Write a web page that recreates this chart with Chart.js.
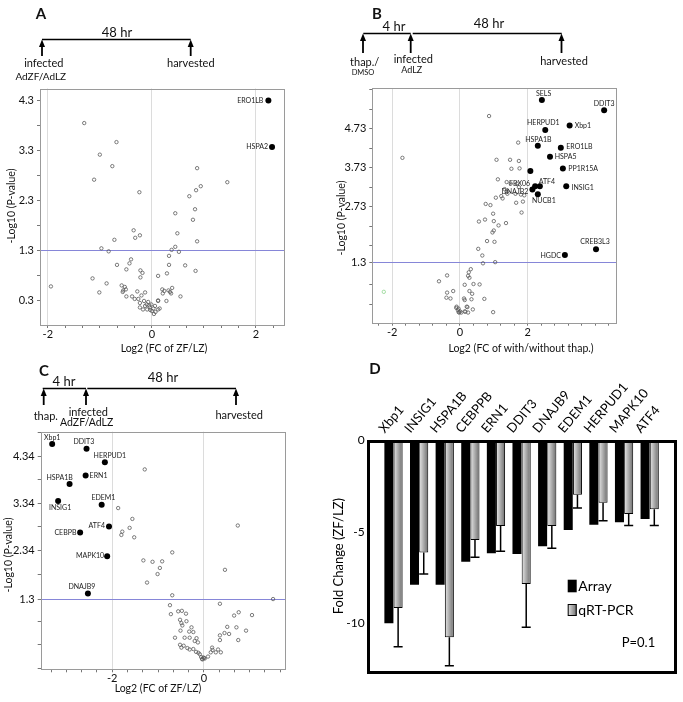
<!DOCTYPE html>
<html>
<head>
<meta charset="utf-8">
<title>Volcano plots and qRT-PCR validation</title>
<script src="https://cdn.jsdelivr.net/npm/chart.js@4.4.1/dist/chart.umd.min.js"></script>
<style>
  html, body { margin:0; padding:0; background:#fff; }
  #page { position:relative; width:683px; height:702px; overflow:hidden; background:#fff; font-family: Lato, "Open Sans", sans-serif; }
  .cbox { position:absolute; }
  #overlay { position:absolute; left:0; top:0; pointer-events:none; }
</style>
</head>
<body>
<div id="page">
  <div class="cbox" style="left:0px;top:74px;width:300px;height:288px"><canvas id="chartA"></canvas></div>
  <div class="cbox" style="left:325px;top:74px;width:358px;height:288px"><canvas id="chartB"></canvas></div>
  <div class="cbox" style="left:0px;top:417px;width:300px;height:285px"><canvas id="chartC"></canvas></div>
  <div class="cbox" style="left:325px;top:360px;width:358px;height:342px"><canvas id="chartD"></canvas></div>

  <svg id="overlay" width="683" height="702" font-family="Lato, 'Open Sans', sans-serif" fill="#111">
    <!-- Panel A timeline -->
    <text x="41" y="19" font-size="15" font-weight="bold" text-anchor="middle">A</text>
    <text x="117" y="37" font-size="13" text-anchor="middle">48 hr</text>
    <line x1="42" y1="39.5" x2="190.7" y2="39.5" stroke="#000" stroke-width="1.4"/>
    <polygon points="42,39.5 39,47 45,47" fill="#000"/><line x1="42" y1="46" x2="42" y2="56" stroke="#000" stroke-width="1.8"/>
    <polygon points="190.7,39.5 187.7,47 193.7,47" fill="#000"/><line x1="190.7" y1="46" x2="190.7" y2="56" stroke="#000" stroke-width="1.8"/>
    <text x="43.8" y="67" font-size="11" text-anchor="middle">infected</text>
    <text x="40.8" y="80" font-size="10" text-anchor="middle">AdZF/AdLZ</text>
    <text x="190.8" y="67" font-size="11" text-anchor="middle">harvested</text>

    <!-- Panel B timeline -->
    <text x="377" y="19" font-size="15" font-weight="bold" text-anchor="middle">B</text>
    <text x="394" y="31" font-size="13" text-anchor="middle">4 hr</text>
    <text x="489" y="28" font-size="13" text-anchor="middle">48 hr</text>
    <line x1="363.3" y1="33.5" x2="410.7" y2="33.5" stroke="#000" stroke-width="1.4"/>
    <line x1="412.7" y1="33.5" x2="561.7" y2="33.5" stroke="#000" stroke-width="1.4"/>
    <polygon points="363,33.5 360,41 366,41" fill="#000"/><line x1="363" y1="40" x2="363" y2="53" stroke="#000" stroke-width="1.8"/>
    <polygon points="410.7,33.5 407.7,41 413.7,41" fill="#000"/><line x1="410.7" y1="40" x2="410.7" y2="53" stroke="#000" stroke-width="1.8"/>
    <polygon points="561.5,33.5 558.5,41 564.5,41" fill="#000"/><line x1="561.5" y1="40" x2="561.5" y2="53" stroke="#000" stroke-width="1.8"/>
    <text x="364.7" y="65.5" font-size="11" text-anchor="middle">thap./</text>
    <text x="363" y="75" font-size="7.5" text-anchor="middle">DMSO</text>
    <text x="413.3" y="62.5" font-size="11" text-anchor="middle">infected</text>
    <text x="411.7" y="72.5" font-size="9" text-anchor="middle">AdLZ</text>
    <text x="564" y="65" font-size="11" text-anchor="middle">harvested</text>

    <!-- Panel C timeline -->
    <text x="44" y="375.5" font-size="15" font-weight="bold" text-anchor="middle">C</text>
    <text x="64" y="385.5" font-size="13" text-anchor="middle">4 hr</text>
    <text x="163" y="382" font-size="13" text-anchor="middle">48 hr</text>
    <line x1="42.7" y1="388.5" x2="86" y2="388.5" stroke="#000" stroke-width="1.4"/>
    <line x1="87.3" y1="388.5" x2="236" y2="388.5" stroke="#000" stroke-width="1.4"/>
    <polygon points="43.7,388.5 40.7,396 46.7,396" fill="#000"/><line x1="43.7" y1="395" x2="43.7" y2="405" stroke="#000" stroke-width="1.8"/>
    <polygon points="86,388.5 83,396 89,396" fill="#000"/><line x1="86" y1="395" x2="86" y2="405" stroke="#000" stroke-width="1.8"/>
    <polygon points="236,388.5 233,396 239,396" fill="#000"/><line x1="236" y1="395" x2="236" y2="405" stroke="#000" stroke-width="1.8"/>
    <text x="45.8" y="420" font-size="11" text-anchor="middle">thap.</text>
    <text x="88.3" y="416" font-size="11" text-anchor="middle">infected</text>
    <text x="86.7" y="426" font-size="10.5" text-anchor="middle">AdZF/AdLZ</text>
    <text x="239.2" y="419" font-size="11" text-anchor="middle">harvested</text>

    <!-- Panel D letter -->
    <text x="375" y="373.5" font-size="15" font-weight="bold" text-anchor="middle">D</text>

    <!-- Axis titles of the volcano plots -->
    <text transform="translate(11,206) rotate(-90)" font-size="10.5" text-anchor="middle" dominant-baseline="central">-Log10 (P-value)</text>
    <text x="164" y="348" font-size="10.5" text-anchor="middle" dominant-baseline="central">Log2 (FC of ZF/LZ)</text>
    <text transform="translate(341,218) rotate(-90)" font-size="10.5" text-anchor="middle" dominant-baseline="central">-Log10 (P-value)</text>
    <text x="521" y="348" font-size="10.5" text-anchor="middle" dominant-baseline="central">Log2 (FC of with/without thap.)</text>
    <text transform="translate(8,555) rotate(-90)" font-size="10.5" text-anchor="middle" dominant-baseline="central">-Log10 (P-value)</text>
    <text x="158" y="688" font-size="10.5" text-anchor="middle" dominant-baseline="central">Log2 (FC of ZF/LZ)</text>
  </svg>
</div>

<script>
// ---------------- DATA ----------------
const pThreshold = 1.3;

// Panel A: ZF vs LZ
const aGenes   = ['ERO1LB', 'HSPA2'];
const aGeneFC  = [2.24, 2.31];
const aGeneP   = [4.30, 3.37];
const aOther = [
  [-1.30,3.85],[-0.68,3.47],[-1.00,3.22],[-0.76,2.99],[-1.11,2.72],[-0.24,2.47],[0.87,2.95],[1.45,2.67],
  [0.94,2.59],[0.85,2.51],[0.72,2.39],[0.83,2.13],[0.45,2.05],[0.79,1.92],[0.49,1.65],[0.87,1.49],
  [-0.35,1.71],[-0.23,1.61],[-0.32,1.56],[-0.72,1.52],[-0.97,1.35],[-0.83,1.29],[0.45,1.38],[0.38,1.32],
  [0.52,1.28],[0.33,1.20],[-0.67,1.02],[-0.40,1.13],[-0.43,1.05],[-0.49,0.93],[-0.22,0.91],[-0.18,0.86],
  [-0.22,0.77],[0.12,0.80],[0.29,0.85],[0.33,1.02],[0.64,1.01],[0.84,0.90],[-1.14,0.75],[-0.87,0.65],
  [-1.94,0.59],[-1.01,0.47],[-0.58,0.61],[-0.55,0.51],[-0.52,0.58],[-0.50,0.53],[-0.56,0.48],[-0.49,0.39],
  [-0.28,0.49],[-0.38,0.39],[-0.33,0.34],[-0.26,0.34],[-0.20,0.41],[-0.13,0.47],[0.20,0.53],[0.24,0.50],
  [0.32,0.51],[0.35,0.48],[0.39,0.56],[0.37,0.45],[0.21,0.45],[0.55,0.39],[0.12,0.30],[0.28,0.30],
  [-0.07,0.28],[-0.10,0.23],[-0.05,0.21],[-0.13,0.20],[-0.01,0.23],[-0.04,0.17],[0.03,0.15],[-0.09,0.13],
  [-0.03,0.12],[0.07,0.08],[0.04,0.04],[0.12,0.13],[0.15,0.15],[-0.23,0.17],[-0.17,0.13],[0.12,0.31],
  [-0.23,0.26],[0.00,0.10],[0.06,0.20],[-0.15,0.30]
];
const aXLabels = [-2, 0, 2];
const aYLabels = [0.3, 1.3, 2.3, 3.3, 4.3];

// Panel B: with / without thapsigargin
const bGenes  = ['SELS','DDIT3','Xbp1','HERPUD1','HSPA1B','ERO1LB','HSPA5','','PP1R15A','ATF4','FBX06','DNAJB2','NUCB1','INSIG1','CREB3L3','HGDC'];
const bGeneFC = [2.42, 4.26, 3.24, 2.52, 2.30, 2.98, 2.66, 2.08, 3.04, 2.36, 2.22, 2.14, 2.30, 3.14, 4.02, 3.10];
const bGeneP  = [5.46, 5.20, 4.81, 4.69, 4.29, 4.24, 4.01, 3.64, 3.71, 3.25, 3.25, 3.17, 3.05, 3.25, 1.64, 1.49];
const bOther = [
  [0.86,5.05],[-1.70,3.98],[1.72,4.37],[1.08,3.93],[1.48,3.93],[1.74,3.90],[1.52,3.70],[1.76,3.71],
  [1.12,3.43],[1.38,3.36],[1.50,3.32],[1.68,3.32],[1.74,3.23],[1.32,3.18],[1.38,3.11],[1.22,3.00],
  [1.26,2.94],[1.40,3.06],[1.64,3.06],[1.80,3.04],[1.06,2.96],[1.90,3.02],[1.66,2.83],[1.86,2.86],
  [0.76,2.80],[0.90,2.77],[1.82,2.58],[0.98,2.55],[0.74,2.40],[0.56,2.35],[1.00,2.36],[1.14,2.25],
  [1.36,2.31],[1.00,2.12],[0.96,2.07],[0.80,1.85],[1.02,1.83],[0.54,1.65],[0.66,1.48],[0.68,1.28],
  [1.04,1.31],[0.32,1.13],[0.26,1.05],[0.28,0.91],[0.24,0.96],[-0.38,0.97],[-0.62,0.82],[0.40,0.75],
  [0.58,0.74],[0.14,0.73],[-0.20,0.57],[-0.38,0.53],[-0.40,0.40],[-0.28,0.38],[0.28,0.57],[0.36,0.50],
  [0.34,0.36],[0.12,0.38],[0.14,0.34],[0.72,0.37],[-0.10,0.17],[-0.04,0.12],[-0.06,0.08],[0.00,0.05],
  [-0.04,0.03],[0.04,0.02],[0.14,0.05],[0.20,0.17],[0.24,0.02],[0.38,0.10],[0.98,0.03],[0.16,0.04],
  [-0.02,0.02],[-0.11,0.14],[0.22,0.16]
];
const bOutlier = [[-2.25, 0.55]];
const bXLabels = [-2, 0, 2];
const bYLabels = [1.3, 2.73, 3.73, 4.73];

// Panel C: ZF vs LZ after thapsigargin
const cGenes  = ['Xbp1','DDIT3','HERPUD1','ERN1','HSPA1B','EDEM1','INSIG1','ATF4','CEBPB','MAPK10','DNAJB9'];
const cGeneFC = [-3.31, -2.56, -2.16, -2.58, -2.93, -2.23, -3.18, -2.07, -2.70, -2.11, -2.53];
const cGeneP  = [4.60, 4.50, 4.21, 3.93, 3.75, 3.31, 3.39, 2.85, 2.72, 2.22, 1.43];
const cOther = [
  [-1.29,4.06],[-1.87,3.24],[-1.56,3.01],[-1.62,2.82],[-1.78,2.74],[-1.80,2.67],[-1.52,2.62],[-0.69,2.30],
  [-1.32,2.13],[-1.12,2.10],[-0.91,2.11],[-0.96,1.97],[-1.01,1.84],[-1.24,1.66],[-0.69,1.39],[0.74,2.87],
  [0.46,1.93],[1.51,1.31],[-0.74,1.18],[-0.72,0.99],[-0.56,1.05],[-0.48,1.06],[-0.39,1.00],[-0.52,0.87],
  [-0.49,0.80],[-0.51,0.64],[-0.47,0.75],[-0.38,0.84],[-0.32,0.62],[-0.27,0.71],[-0.23,0.61],[-0.20,0.42],
  [-0.13,0.39],[-0.16,0.48],[-0.52,0.34],[-0.49,0.28],[-0.44,0.32],[-0.36,0.27],[-0.31,0.24],[-0.23,0.25],
  [-0.17,0.19],[-0.12,0.17],[-0.09,0.14],[-0.06,0.08],[-0.04,0.04],[-0.01,0.07],[0.02,0.05],[0.09,0.09],
  [0.15,0.18],[0.19,0.23],[0.18,0.28],[0.26,0.18],[0.31,0.24],[0.37,0.18],[-0.63,0.49],[-0.42,0.49],
  [-0.31,0.49],[0.35,1.21],[0.66,0.96],[0.76,1.03],[1.05,0.97],[0.51,0.72],[0.71,0.71],[0.45,0.59],
  [0.55,0.57],[0.35,0.54],[0.35,0.44],[0.75,0.44],[0.92,0.64],[0.00,0.06],[-0.03,0.03]
];
const cXLabels = [-2, 0];
const cYLabels = [1.3, 2.34, 3.34, 4.34];

// Panel D: array vs qRT-PCR fold change
const dGenes   = ['Xbp1','INSIG1','HSPA1B','CEBPPB','ERN1','DDIT3','DNAJB9','EDEM1','HERPUD1','MAPK10','ATF4'];
const dArray   = [-10.0, -7.9, -7.9, -6.64, -6.18, -6.22, -5.8, -4.91, -4.62, -4.49, -4.31];
const dQrt     = [-9.16, -6.13, -10.76, -5.45, -4.69, -7.85, -4.69, -2.98, -3.42, -4.04, -3.78];
const dQrtErr  = [2.11, 1.18, 1.55, 0.95, 1.38, 2.36, 1.22, 0.73, 0.98, 0.63, 0.89];
const dYTicks  = [-10, -5, 0];
const dNote    = 'P=0.1';

// ---------------- STYLE / HELPERS ----------------
const FONT = 'Lato, "Open Sans", sans-serif';
const near = (a, b) => Math.abs(a - b) < 1e-6;

function makeTicks(min, max, anchor, step, keep) {
  const out = [];
  let k = Math.ceil((min - anchor) / step - 1e-9);
  for (let v = anchor + k * step; v <= max + 1e-9; k++, v = anchor + k * step) out.push(+v.toFixed(6));
  const filtered = out.filter(v => !keep.some(e => !near(e, v) && Math.abs(e - v) < 0.12));
  keep.forEach(e => { if (e >= min && e <= max && !filtered.some(v => near(v, e))) filtered.push(e); });
  return filtered.sort((a, b) => a - b);
}

function boxPlugin(color, width, padL, padR, padT) {
  return {
    id: 'frame',
    afterDatasetsDraw(chart) {
      const a = chart.chartArea, c = chart.ctx;
      c.save();
      c.strokeStyle = color; c.lineWidth = width;
      const l = Math.round(a.left - padL) + (width % 2 ? 0.5 : 0);
      const r = Math.round(a.right + padR) + (width % 2 ? 0.5 : 0);
      const t = Math.round(a.top + padT) + (width % 2 ? 0.5 : 0);
      const b = Math.round(a.bottom) + (width % 2 ? 0.5 : 0);
      c.strokeRect(l, t, r - l, b - t);
      c.restore();
    }
  };
}

function labelPlugin(names, place) {
  return {
    id: 'geneLabels',
    afterDatasetsDraw(chart) {
      const meta = chart.getDatasetMeta(1), c = chart.ctx;
      c.save();
      c.font = '7px ' + FONT; c.fillStyle = '#222'; c.textBaseline = 'middle';
      meta.data.forEach((pt, i) => {
        const name = names[i];
        if (!name) return;
        const p = place[name] || [5, 0, 'left'];
        c.textAlign = p[2];
        c.fillText(name, pt.x + p[0], pt.y + p[1]);
      });
      c.restore();
    }
  };
}

function volcano(id, o) {
  const xTicks = makeTicks(o.xMin, o.xMax, 0, o.xStep, []);
  const yTicks = makeTicks(o.yMin, o.yMax, o.yAnchor, 0.5, o.yLabels);
  const datasets = [
    { label: 'other', data: o.other.map(p => ({ x: p[0], y: p[1] })),
      pointRadius: 1.7, pointBorderWidth: 0.8, pointBorderColor: '#5a5a5a', pointBackgroundColor: 'rgba(255,255,255,0)' },
    { label: 'genes', data: o.fc.map((x, i) => ({ x, y: o.p[i] })),
      pointRadius: 3, pointBorderWidth: 0, pointBackgroundColor: '#000', pointBorderColor: '#000' }
  ];
  if (o.outlier) datasets.push({ label: 'outlier', data: o.outlier.map(p => ({ x: p[0], y: p[1] })),
      pointRadius: 1.7, pointBorderWidth: 0.8, pointBorderColor: '#8fd68f', pointBackgroundColor: 'rgba(255,255,255,0)' });

  return new Chart(document.getElementById(id), {
    type: 'scatter',
    data: { datasets },
    options: {
      responsive: true, maintainAspectRatio: false, animation: false, events: [],
      layout: { padding: { left: 0, top: o.padTop, right: o.padRight, bottom: 0 } },
      plugins: { legend: { display: false }, tooltip: { enabled: false } },
      scales: {
        x: {
          type: 'linear', min: o.xMin, max: o.xMax,
          afterBuildTicks: s => { s.ticks = xTicks.map(v => ({ value: v })); },
          afterFit: s => { s.height = o.xAxisH; },
          ticks: {
            autoSkip: false, maxRotation: 0, padding: 0, color: '#111', font: { family: FONT, size: 11 },
            callback: v => { const l = o.xLabels.find(a => near(a, v)); return l === undefined ? '' : String(l); }
          },
          grid: {
            color: c => (c.tick && o.xLabels.some(a => near(a, c.tick.value))) ? '#dcdcdc' : 'rgba(0,0,0,0)',
            tickColor: '#777', tickLength: 3, lineWidth: 1
          },
          border: { display: false }
        },
        y: {
          type: 'linear', min: o.yMin, max: o.yMax,
          afterBuildTicks: s => { s.ticks = yTicks.map(v => ({ value: v })); },
          afterFit: s => { s.width = o.yAxisW; },
          ticks: {
            autoSkip: false, padding: 3, color: '#111', font: { family: FONT, size: 11 },
            callback: v => { const l = o.yLabels.find(a => near(a, v)); return l === undefined ? '' : String(l); }
          },
          grid: {
            color: c => (c.tick && near(c.tick.value, pThreshold)) ? '#8686d8' : 'rgba(0,0,0,0)',
            tickColor: '#777', tickLength: 3, lineWidth: 1
          },
          border: { display: false }
        }
      }
    },
    plugins: [boxPlugin('#9a9a9a', 1, 0, 0, 0), labelPlugin(o.genes, o.place)]
  });
}

// ---------------- PANELS A, B, C ----------------
volcano('chartA', {
  other: aOther, fc: aGeneFC, p: aGeneP, genes: aGenes,
  xMin: -2.15, xMax: 2.54, xStep: 1/3, xLabels: aXLabels,
  yMin: -0.18, yMax: 4.54, yAnchor: 0.3, yLabels: aYLabels,
  padTop: 14.5, padRight: 16, yAxisW: 40, xAxisH: 37,
  place: { 'ERO1LB': [-5, 0, 'right'], 'HSPA2': [-4, 0, 'right'] }
});

volcano('chartB', {
  other: bOther, outlier: bOutlier, fc: bGeneFC, p: bGeneP, genes: bGenes,
  xMin: -2.59, xMax: 4.61, xStep: 0.4, xLabels: bXLabels,
  yMin: -0.24, yMax: 5.76, yAnchor: 0.73, yLabels: bYLabels,
  padTop: 14.3, padRight: 67, yAxisW: 47.3, xAxisH: 39.3,
  place: {
    'SELS': [1.7, -6.5, 'center'], 'DDIT3': [0, -6.5, 'center'], 'Xbp1': [5, 0, 'left'],
    'HERPUD1': [-2, -7, 'center'], 'HSPA1B': [0.5, -5.5, 'center'], 'ERO1LB': [5.5, -0.5, 'left'],
    'HSPA5': [4.7, 0, 'left'], 'PP1R15A': [5.5, 0, 'left'], 'ATF4': [7, -5, 'center'],
    'FBX06': [-5, -3, 'right'], 'DNAJB2': [-4, 2, 'right'], 'NUCB1': [6, 7, 'center'],
    'INSIG1': [5.3, 1, 'left'], 'CREB3L3': [-1, -8, 'center'], 'HGDC': [-4, 0.3, 'right']
  }
});

volcano('chartC', {
  other: cOther, fc: cGeneFC, p: cGeneP, genes: cGenes,
  xMin: -3.56, xMax: 1.77, xStep: 1/3, xLabels: cXLabels,
  yMin: -0.18, yMax: 4.86, yAnchor: 0.34, yLabels: cYLabels,
  padTop: 14.7, padRight: 15, yAxisW: 40.7, xAxisH: 32.7,
  place: {
    'Xbp1': [0, -6.3, 'center'], 'DDIT3': [-2.7, -6.7, 'center'], 'HERPUD1': [5, -7, 'center'],
    'ERN1': [4, 0, 'left'], 'HSPA1B': [-10, -6.7, 'center'], 'EDEM1': [1.7, -6.7, 'center'],
    'INSIG1': [2, 7, 'center'], 'ATF4': [-4, -0.7, 'right'], 'CEBPB': [-3.7, 0, 'right'],
    'MAPK10': [-3, 0, 'right'], 'DNAJB9': [-6, -7, 'center']
  }
});

// ---------------- PANEL D ----------------
const CAT_PCT = 0.72, BAR_PCT = 0.98;

function grayGradient(c, x0, x1) {
  const g = c.createLinearGradient(x0, 0, x1, 0);
  g.addColorStop(0, '#e8e8e8');
  g.addColorStop(0.5, '#aaaaaa');
  g.addColorStop(1, '#6c6c6c');
  return g;
}

function qrtFill(ctx) {
  const chart = ctx.chart, xs = chart.scales.x;
  if (!xs || ctx.type !== 'data' || !chart.chartArea) return '#aaaaaa';
  const catW = xs.width / chart.data.labels.length;
  const size = catW * CAT_PCT / 2;
  const center = xs.getPixelForValue(ctx.dataIndex) + size / 2;
  const w = size * BAR_PCT;
  return grayGradient(chart.ctx, center - w / 2, center + w / 2);
}

const errPlugin = {
  id: 'errorBars',
  afterDatasetsDraw(chart) {
    const meta = chart.getDatasetMeta(1), ys = chart.scales.y, c = chart.ctx;
    c.save();
    c.strokeStyle = '#000'; c.lineWidth = 1.5;
    meta.data.forEach((bar, i) => {
      const y0 = ys.getPixelForValue(dQrt[i]);
      const y1 = ys.getPixelForValue(dQrt[i] - dQrtErr[i]);
      c.beginPath();
      c.moveTo(bar.x, y0); c.lineTo(bar.x, y1);
      c.moveTo(bar.x - bar.width / 2, y1); c.lineTo(bar.x + bar.width / 2, y1);
      c.stroke();
    });
    c.restore();
  }
};

const dLegendPlugin = {
  id: 'dLegend',
  afterDraw(chart) {
    const a = chart.chartArea, c = chart.ctx;
    const labels = chart.data.datasets.map(d => d.label);
    const x0 = a.left + 187;
    const ys = [a.top + 146, a.top + 170];
    c.save();
    c.fillStyle = '#000';
    c.fillRect(x0, ys[0] - 6.3, 9, 12.6);
    c.fillStyle = grayGradient(c, x0, x0 + 9);
    c.fillRect(x0, ys[1] - 6, 9, 12);
    c.strokeStyle = '#000'; c.lineWidth = 1;
    c.strokeRect(x0 + 0.5, ys[1] - 5.5, 8, 11);
    c.fillStyle = '#000';
    c.font = '14px ' + FONT; c.textBaseline = 'middle'; c.textAlign = 'left';
    c.fillText(labels[0], x0 + 10.5, ys[0]);
    c.fillText(labels[1], x0 + 10.5, ys[1]);
    c.font = '13px ' + FONT;
    c.fillText(dNote, a.left + 241, a.top + 203);
    c.restore();
  }
};

new Chart(document.getElementById('chartD'), {
  type: 'bar',
  data: {
    labels: dGenes,
    datasets: [
      { label: 'Array', data: dArray, backgroundColor: '#000', borderWidth: 0,
        barPercentage: BAR_PCT, categoryPercentage: CAT_PCT },
      { label: 'qRT-PCR', data: dQrt, backgroundColor: qrtFill, borderColor: '#000', borderWidth: 1,
        barPercentage: BAR_PCT, categoryPercentage: CAT_PCT }
    ]
  },
  options: {
    responsive: true, maintainAspectRatio: false, animation: false, events: [],
    layout: { padding: { left: 0, top: 5, right: 20.5, bottom: 29.7 } },
    plugins: { legend: { display: false }, tooltip: { enabled: false } },
    scales: {
      x: {
        position: 'top',
        grid: { display: false, drawTicks: false }, border: { display: false },
        afterFit: s => { s.height = 75; },
        ticks: { minRotation: 50, maxRotation: 50, autoSkip: false, padding: 4, color: '#000',
                 font: { family: FONT, size: 13 } }
      },
      y: {
        min: -12.67, max: 0,
        afterBuildTicks: s => { s.ticks = dYTicks.map(v => ({ value: v })); },
        afterFit: s => { s.width = 55.7; },
        grid: { display: false, drawTicks: false }, border: { display: false },
        ticks: { padding: 16, color: '#000', font: { family: FONT, size: 12 } },
        title: { display: true, text: 'Fold Change (ZF/LZ)', color: '#000',
                 font: { family: FONT, size: 13 }, padding: { top: 6, bottom: 0 } }
      }
    }
  },
  plugins: [boxPlugin('#000', 3, 12.4, 12.5, 1), errPlugin, dLegendPlugin]
});
</script>
</body>
</html>
